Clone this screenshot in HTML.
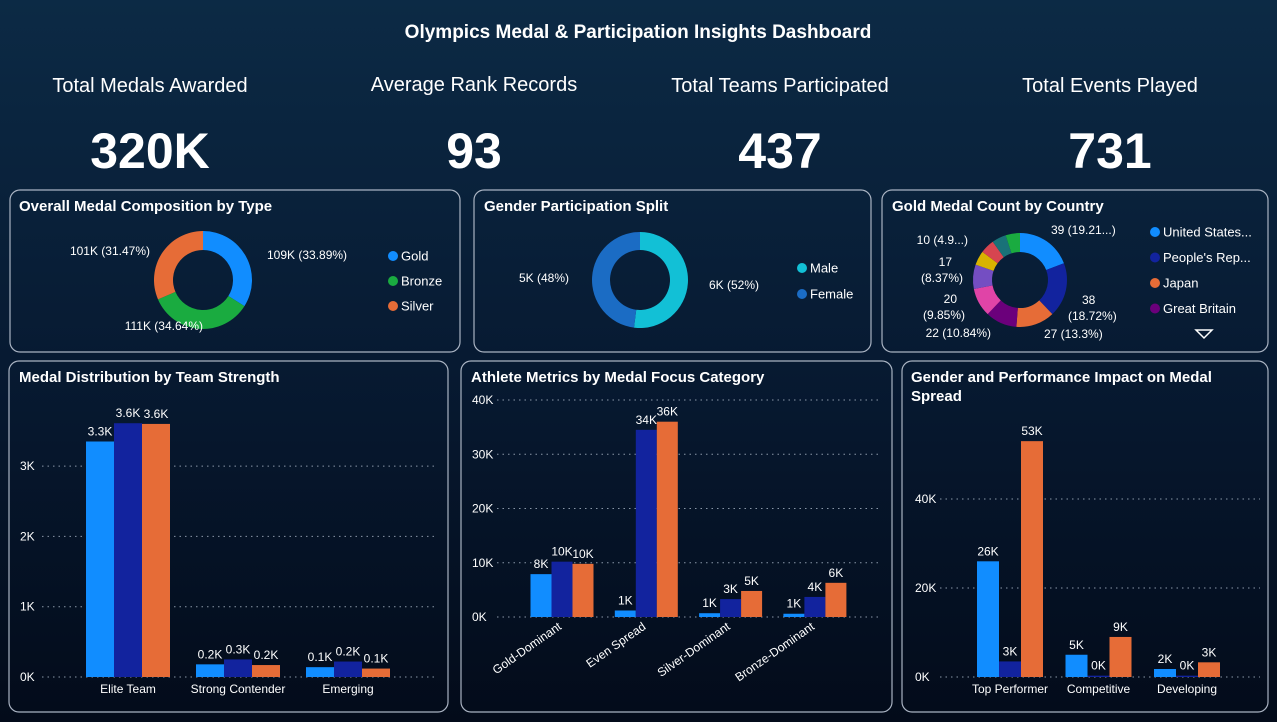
<!DOCTYPE html>
<html><head><meta charset="utf-8"><style>
html,body{margin:0;padding:0;width:1277px;height:722px;overflow:hidden;background:#061428}
svg{display:block;font-family:"Liberation Sans",sans-serif}
</style></head><body>
<svg id="s" width="1277" height="722" viewBox="0 0 1277 722" xmlns="http://www.w3.org/2000/svg">
<defs><linearGradient id="bg" x1="0" y1="0" x2="0" y2="1"><stop offset="0" stop-color="#0c2a45"/><stop offset="0.5" stop-color="#071a32"/><stop offset="1" stop-color="#030b1a"/></linearGradient></defs>
<rect width="1277" height="722" fill="url(#bg)"/>
<text x="638" y="38" fill="#fff" font-size="19" font-weight="bold" text-anchor="middle">Olympics Medal &amp; Participation Insights Dashboard</text>
<g fill="#fff" text-anchor="middle">
<text x="150" y="92" font-size="20">Total Medals Awarded</text>
<text x="150" y="168" font-size="50" font-weight="bold">320K</text>
<text x="474" y="91" font-size="20">Average Rank Records</text>
<text x="474" y="168" font-size="50" font-weight="bold">93</text>
<text x="780" y="92" font-size="20">Total Teams Participated</text>
<text x="780" y="168" font-size="50" font-weight="bold">437</text>
<text x="1110" y="92" font-size="20">Total Events Played</text>
<text x="1110" y="168" font-size="50" font-weight="bold">731</text>
</g>
<g fill="none" stroke="#a9b3c2" stroke-width="1.2">
<rect x="10" y="190" width="450" height="162" rx="10"/>
<rect x="474" y="190" width="397" height="162" rx="10"/>
<rect x="882" y="190" width="386" height="162" rx="10"/>
<rect x="9" y="361" width="439" height="351" rx="10"/>
<rect x="461" y="361" width="431" height="351" rx="10"/>
<rect x="902" y="361" width="366" height="351" rx="10"/>
</g>
<g fill="#fff" font-size="15" font-weight="bold">
<text x="19" y="211">Overall Medal Composition by Type</text>
<text x="484" y="211">Gender Participation Split</text>
<text x="892" y="211">Gold Medal Count by Country</text>
<text x="19" y="382">Medal Distribution by Team Strength</text>
<text x="471" y="382">Athlete Metrics by Medal Focus Category</text>
<text x="911" y="382">Gender and Performance Impact on Medal</text>
<text x="911" y="401">Spread</text>
</g>
<g id="charts"></g>
</svg>
<script>
// ---- Donut data ----
const medalTypes = ["Gold","Bronze","Silver"];
const medalTypeValues = [109, 111, 101];
const medalTypeLabels = ["109K (33.89%)","111K (34.64%)","101K (31.47%)"];
const genders = ["Male","Female"];
const genderValues = [52, 48];
const genderLabels = ["6K (52%)","5K (48%)"];
const countries = ["United States...","People's Rep...","Japan","Great Britain","C5","C6","C7","C8","C9","C10"];
const countryValues = [39, 38, 27, 22, 20, 17, 10, 10, 10, 10];
// ---- Bar chart 1 ----
const strengthCats = ["Elite Team","Strong Contender","Emerging"];
const strengthS1 = [3.35, 0.18, 0.14];
const strengthS2 = [3.61, 0.25, 0.22];
const strengthS3 = [3.6, 0.17, 0.12];
const strengthLbl1 = ["3.3K","0.2K","0.1K"];
const strengthLbl2 = ["3.6K","0.3K","0.2K"];
const strengthLbl3 = ["3.6K","0.2K","0.1K"];
const strengthTicks = [0,1,2,3];
// ---- Bar chart 2 ----
const focusCats = ["Gold-Dominant","Even Spread","Silver-Dominant","Bronze-Dominant"];
const focusS1 = [7.9, 1.2, 0.7, 0.6];
const focusS2 = [10.2, 34.5, 3.3, 3.7];
const focusS3 = [9.8, 36, 4.8, 6.3];
const focusLbl1 = ["8K","1K","1K","1K"];
const focusLbl2 = ["10K","34K","3K","4K"];
const focusLbl3 = ["10K","36K","5K","6K"];
const focusTicks = [0,10,20,30,40];
// ---- Bar chart 3 ----
const perfCats = ["Top Performer","Competitive","Developing"];
const perfS1 = [26, 5, 1.8];
const perfS2 = [3.5, 0.3, 0.3];
const perfS3 = [53, 9, 3.3];
const perfLbl1 = ["26K","5K","2K"];
const perfLbl2 = ["3K","0K","0K"];
const perfLbl3 = ["53K","9K","3K"];
const perfTicks = [0,20,40];

const NS="http://www.w3.org/2000/svg";
const root=document.getElementById('charts');
function mk(tag,attrs,parent){const e=document.createElementNS(NS,tag);for(const k in attrs)e.setAttribute(k,attrs[k]);(parent||root).appendChild(e);return e;}
const C1="#118dff",C2="#12239e",C3="#e66c37";

function donut(cx,cy,ro,ri,vals,colors,name){
  const tot=vals.reduce((a,b)=>a+b,0);let a0=-Math.PI/2;const mids=[];
  vals.forEach((v,i)=>{const a1=a0+v/tot*2*Math.PI;
    const p=(r,a)=>[cx+r*Math.cos(a),cy+r*Math.sin(a)];
    const [x1,y1]=p(ro,a0),[x2,y2]=p(ro,a1),[x3,y3]=p(ri,a1),[x4,y4]=p(ri,a0);
    const lg=(a1-a0)>Math.PI?1:0;
    const e=mk('path',{d:`M${x1},${y1}A${ro},${ro} 0 ${lg} 1 ${x2},${y2}L${x3},${y3}A${ri},${ri} 0 ${lg} 0 ${x4},${y4}Z`,fill:colors[i]});
    
    
    mids.push((a0+a1)/2);a0=a1;});
  return mids;
}
function legend(x,y0,dy,labels,colors,name){
  labels.forEach((l,i)=>{const y=y0+i*dy;
    const c=mk('circle',{cx:x,cy:y,r:5,fill:colors[i]});
    
    
    const t=mk('text',{x:x+8,y:y+4.5,fill:'#fff','font-size':13});t.textContent=l;
    
    });
}
function lbl(x,y,s,anchor,name){const t=mk('text',{x:x,y:y,fill:'#fff','font-size':12,'text-anchor':anchor});t.textContent=s;
  
  return t;}

// Donut 1
const d1c=[C1,"#1aab40",C3];
donut(203,280,49,30,medalTypeValues,d1c,'medal-type');
lbl(267,259,medalTypeLabels[0],'start','medal-label-gold');
lbl(203,330,medalTypeLabels[1],'end','medal-label-bronze');
lbl(150,255,medalTypeLabels[2],'end','medal-label-silver');
legend(393,256,25,medalTypes,d1c,'medal-type');
// Donut 2
const d2c=["#12c0d6","#1b6cc4"];
donut(640,280,48,30,genderValues,d2c,'gender');
lbl(709,289,genderLabels[0],'start','gender-label-male');
lbl(569,282,genderLabels[1],'end','gender-label-female');
legend(802,268,26,genders,d2c,'gender');
// Donut 3
const d3c=[C1,C2,C3,"#6b007b","#e044a7","#744ec2","#d9b300","#d64550","#197278","#1aab40"];
donut(1020,280,47,28,countryValues,d3c,'country');
lbl(1051,234,"39 (19.21...)",'start','country-label-1');
lbl(1082,304,"38",'start','country-label-2');
lbl(1068,320,"(18.72%)",'start','country-label-2b');
lbl(1044,338,"27 (13.3%)",'start','country-label-3');
lbl(991,337,"22 (10.84%)",'end','country-label-4');
lbl(957,303,"20",'end','country-label-5');
lbl(965,319,"(9.85%)",'end','country-label-5b');
lbl(952,266,"17",'end','country-label-6');
lbl(963,282,"(8.37%)",'end','country-label-6b');
lbl(968,244,"10 (4.9...)",'end','country-label-7');
legend(1155,232,25.5,countries.slice(0,4),d3c,'country');
const tri=mk('path',{d:'M1196,330L1212,330L1204,338Z',fill:'none',stroke:'#fff','stroke-width':1.5});



function barChart(o){
  const y=v=>o.y0-v*o.k;
  o.ticks.forEach(t=>{
    const g=mk('line',{x1:o.gx0,x2:o.gx1,y1:y(t),y2:y(t),stroke:'#8a97a8','stroke-dasharray':'1.5 4','stroke-width':1});
    
    
    lbl(o.tx,y(t)+4,t+'K','start',o.name+'-y-tick');
  });
  const series=[o.s1,o.s2,o.s3],labs=[o.l1,o.l2,o.l3],cols=[C1,C2,C3];
  o.cats.forEach((c,i)=>{
    const cx=o.c0+i*o.step;
    series.forEach((s,j)=>{
      const x=cx+(j-1.5)*o.bw;
      const r=mk('rect',{x:x,y:y(s[i]),width:o.bw,height:s[i]*o.k,fill:cols[j]});
      
      
      lbl(x+o.bw/2,y(s[i])-6,labs[j][i],'middle',o.name+'-value-label');
    });
    if(o.rot){const t=lbl(cx-2,o.y0+12,c,'end',o.name+'-x-label');t.setAttribute('transform',`rotate(-35 ${cx-2} ${o.y0+8})`);}
    else lbl(cx,o.y0+16,c,'middle',o.name+'-x-label');
  });
}
barChart({name:'team-strength',cats:strengthCats,s1:strengthS1,s2:strengthS2,s3:strengthS3,l1:strengthLbl1,l2:strengthLbl2,l3:strengthLbl3,ticks:strengthTicks,y0:677,k:70.3,gx0:42,gx1:438,tx:20,c0:128,step:110,bw:28});
barChart({name:'athlete-metrics',cats:focusCats,s1:focusS1,s2:focusS2,s3:focusS3,l1:focusLbl1,l2:focusLbl2,l3:focusLbl3,ticks:focusTicks,y0:617,k:5.425,gx0:497,gx1:882,tx:472,c0:562,step:84.3,bw:21,rot:true});
barChart({name:'gender-performance',cats:perfCats,s1:perfS1,s2:perfS2,s3:perfS3,l1:perfLbl1,l2:perfLbl2,l3:perfLbl3,ticks:perfTicks,y0:677,k:4.45,gx0:940,gx1:1260,tx:915,c0:1010,step:88.5,bw:22});
</script>
</body></html>
